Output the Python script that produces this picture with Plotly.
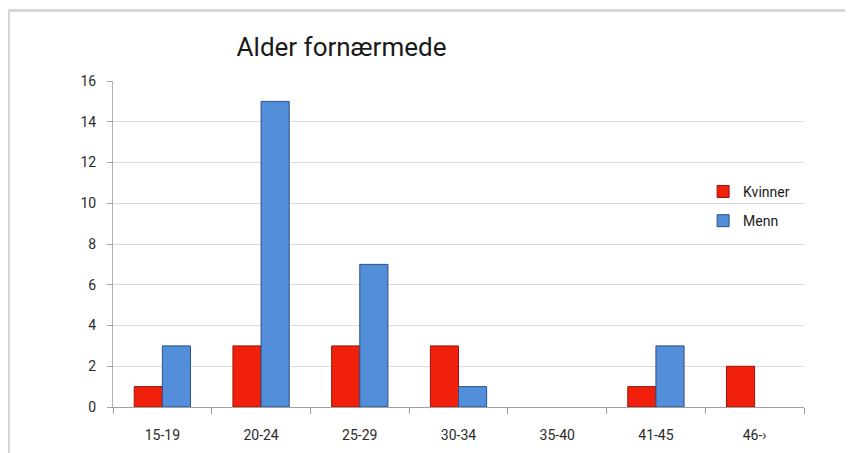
import plotly.graph_objs as go

# Aldersgrupper og antall fornærmede
aldersgrupper = ['15-19', '20-24', '25-29', '30-34', '35-40', '41-45', '46-›']
kvinner = [1, 3, 3, 3, 0, 1, 2]
menn = [3, 15, 7, 1, 0, 3, 0]

# Ingen kantlinje på tomme søyler
def kant(verdier):
    return [1 if v > 0 else 0 for v in verdier]

fig = go.Figure()
fig.add_trace(go.Bar(
    x=aldersgrupper, y=kvinner, name='Kvinner', legendgroup='k',
    marker=dict(color='rgb(240, 32, 12)',
                line=dict(color='rgb(150, 20, 10)', width=kant(kvinner)))
))
fig.add_trace(go.Bar(
    x=aldersgrupper, y=menn, name='Menn', legendgroup='m',
    marker=dict(color='rgb(82, 142, 218)',
                line=dict(color='rgb(45, 80, 130)', width=kant(menn)))
))

fig.update_layout(
    width=853,
    height=453,
    margin=dict(l=105, r=57, t=73, b=54),
    paper_bgcolor='white',
    plot_bgcolor='white',
    font=dict(family='Roboto, DejaVu Sans, sans-serif', size=14, color='#2a2a2a'),
    title=dict(text='Alder fornærmede', x=0.391, xanchor='center', y=0.914, yanchor='middle',
               xref='container', yref='container',
               font=dict(size=26, color='#1a1a1a')),
    barmode='group',
    bargap=0.43,
    bargroupgap=0,
    showlegend=True,
    legend=dict(x=0.854, y=0.709, xanchor='left', yanchor='top', bgcolor='rgba(0,0,0,0)',
                font=dict(size=14, color='#1a1a1a'), itemwidth=30, tracegroupgap=8),
    shapes=[
        dict(type='line', xref='paper', yref='paper', x0=-0.1512, x1=1.2, y0=1.2163, y1=1.2163,
             line=dict(color='#d6d6d6', width=3)),
        dict(type='line', xref='paper', yref='paper', x0=-0.1512, x1=-0.1512, y0=1.2163, y1=-0.2,
             line=dict(color='#d6d6d6', width=3)),
    ],
)
fig.update_xaxes(
    showgrid=False, showline=True, linecolor='#a0a0a0', linewidth=1,
    ticks='outside', ticklen=6, tickcolor='#a0a0a0', tickson='boundaries',
    ticklabelstandoff=15
)
fig.update_yaxes(
    range=[0, 16], dtick=2, showgrid=True, gridcolor='#dcdcdc', gridwidth=1,
    showline=True, linecolor='#b0b0b0', linewidth=1,
    ticks='outside', ticklen=5, tickcolor='#a0a0a0', zeroline=False,
    ticklabelstandoff=8
)

fig.write_html("out.html")
